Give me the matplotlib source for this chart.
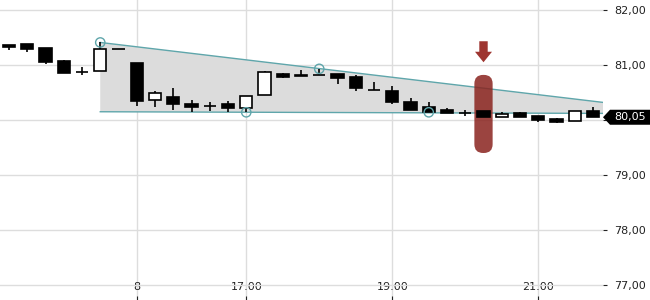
import numpy as np
import matplotlib.pyplot as plt
from matplotlib.patches import FancyBboxPatch, Polygon
from matplotlib.transforms import blended_transform_factory, ScaledTranslation

# 15 minute candles, index 0 = first candle
opens  = [81.36, 81.38, 81.31, 81.07, 80.88, 80.90, 81.29, 81.04, 80.36, 80.42, 80.29,
          80.26, 80.30, 80.21, 80.45, 80.83, 80.81, 80.82, 80.84, 80.78, 80.55, 80.53,
          80.33, 80.24, 80.18, 80.13, 80.16, 80.05, 80.13, 80.08, 80.01, 79.98, 80.16]
highs  = [81.37, 81.38, 81.31, 81.10, 80.96, 81.41, 81.29, 81.04, 80.53, 80.58, 80.36,
          80.32, 80.35, 80.43, 80.90, 80.86, 80.91, 80.93, 80.84, 80.82, 80.69, 80.61,
          80.40, 80.33, 80.22, 80.18, 80.16, 80.15, 80.15, 80.08, 80.04, 80.16, 80.24]
lows   = [81.28, 81.24, 81.02, 80.86, 80.81, 80.90, 81.29, 80.25, 80.24, 80.19, 80.15,
          80.17, 80.14, 80.14, 80.45, 80.77, 80.80, 80.82, 80.66, 80.52, 80.55, 80.30,
          80.19, 80.14, 80.12, 80.07, 80.06, 80.05, 80.06, 79.96, 79.95, 79.98, 80.05]
closes = [81.32, 81.30, 81.06, 80.86, 80.88, 81.29, 81.29, 80.35, 80.49, 80.30, 80.24,
          80.26, 80.21, 80.43, 80.87, 80.78, 80.80, 80.82, 80.76, 80.59, 80.55, 80.33,
          80.19, 80.15, 80.12, 80.13, 80.06, 80.11, 80.06, 80.00, 79.97, 80.16, 80.05]

xtick_pos = [7, 13, 21, 29]
xtick_labels = ["8", "17:00", "19:00", "21:00"]
yticks = [77, 78, 79, 80, 81, 82]

# wedge: (index, price) for start and end of both lines
wedge_top = [(5, 81.41), (32.55, 80.32)]
wedge_bottom = [(5, 80.15), (32.55, 80.12)]
touch_x = [5, 17, 13, 23]
touch_y = [81.41, 80.93, 80.14, 80.14]

signal_idx = 26
signal_top, signal_bottom = 80.82, 79.40
arrow_tip = 81.05
last_price = 80.05

teal = "#5fa6ab"
red = "#8a231e"

fig = plt.figure(figsize=(6.5, 3), dpi=100)
ax = fig.add_axes([0, 0, 603 / 650, 1])

x = np.arange(len(opens))
o = np.array(opens)
c = np.array(closes)

# wedge
poly = [wedge_top[0], wedge_top[1], wedge_bottom[1], wedge_bottom[0]]
ax.add_patch(Polygon(poly, closed=True, fc="#dcdcdc", ec="none", zorder=1))
ax.plot(*zip(*wedge_top), color=teal, lw=1, zorder=2)
ax.plot(*zip(*wedge_bottom), color=teal, lw=1, zorder=2)

# signal band + arrow
band = FancyBboxPatch((signal_idx - 0.5, signal_bottom), 1.0, signal_top - signal_bottom,
                      boxstyle="round,pad=0,rounding_size=0.48", mutation_aspect=18.25 / 55,
                      fc=red, ec="none", alpha=0.85, zorder=3)
ax.add_patch(band)
# arrow shape in inches, anchored at its tip
arr = [(0, 0), (-0.085, 0.105), (-0.042, 0.105), (-0.042, 0.21),
       (0.042, 0.21), (0.042, 0.105), (0.085, 0.105)]
atr = fig.dpi_scale_trans + ScaledTranslation(signal_idx, arrow_tip, ax.transData)
ax.add_patch(Polygon(arr, closed=True, fc="#9e3530", ec="none", transform=atr, zorder=5))

# candles
up = c >= o
ax.vlines(x, lows, highs, color="black", lw=1.2, zorder=4)
ax.bar(x, c - o, bottom=o, width=0.68, color=np.where(up, "white", "black"),
       edgecolor="black", linewidth=1.2, zorder=5)

ax.scatter(touch_x, touch_y, s=45, facecolors="none", edgecolors=teal, lw=1, zorder=6)

ax.set_xlim(-9 / 18.25, (603 - 9) / 18.25)
ax.set_ylim(82 - 290 / 55, 82 + 10 / 55)

ax.set_xticks(xtick_pos)
ax.set_xticklabels(xtick_labels)
ax.set_yticks(yticks)
# 80,00 sits under the last price tag
ax.set_yticklabels(["" if v == 80 else f"{v:.2f}".replace(".", ",") for v in yticks])
ax.yaxis.tick_right()
ax.tick_params(axis="y", direction="out", length=3, pad=5, labelsize=8, colors="#222222")
ax.tick_params(axis="x", direction="in", length=3, pad=-13, labelsize=8, colors="#222222")
ax.grid(True, color="#dddddd", lw=1)
ax.set_axisbelow(True)
for s in ax.spines.values():
    s.set_visible(False)

# last price tag
tr = blended_transform_factory(ax.transAxes, ax.transData)
h = 7.5 / 55
w = 47 / 603
tag = [(1.0, last_price), (1.0 + 7 / 603, last_price + h), (1.0 + w, last_price + h),
       (1.0 + w, last_price - h), (1.0 + 7 / 603, last_price - h)]
ax.add_patch(Polygon(tag, closed=True, fc="black", ec="none", transform=tr, clip_on=False))
ax.text(1.0 + 11 / 603, last_price, f"{last_price:.2f}".replace(".", ","), color="white",
        fontsize=8, va="center", ha="left", transform=tr)

fig.savefig("out.png", dpi=100)
